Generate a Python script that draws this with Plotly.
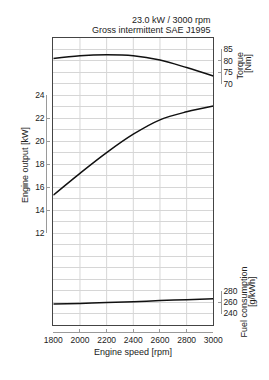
import plotly.graph_objects as go

# ---- data ----
rpm = [1800, 2000, 2200, 2400, 2600, 2800, 3000]
output_kw = [15.3, 17.2, 19.0, 20.6, 21.85, 22.55, 23.05]
torque_nm = [81.0, 82.2, 82.6, 82.2, 80.3, 77.0, 73.3]
fuel_gkwh = [256.5, 257.5, 259.0, 260.5, 262.5, 264.0, 265.5]

x_ticks = [1800, 2000, 2200, 2400, 2600, 2800, 3000]
kw_ticks = [12, 14, 16, 18, 20, 22, 24]
torque_ticks = [70, 75, 80, 85]
fuel_ticks = [240, 260, 280]

title_lines = ["23.0 kW / 3000 rpm", "Gross intermittent SAE J1995"]

# ---- layout helpers ----
W, H = 269, 380
def px_x(x):
    return x / W
def px_y(y):
    return (H - y) / H

X0, X1 = px_x(53.3), px_x(213.3)
Y0, Y1 = px_y(325), px_y(37.7)
KW_MIN, KW_MAX = 4, 29
def dom(v):
    return Y0 + (v - KW_MIN) / (KW_MAX - KW_MIN) * (Y1 - Y0)

FONT = "Liberation Sans"
TXT = "#222222"
GRID = "#d6d6d6"
FRAME = "#444444"
BRACKET = "#9a9a9a"

fig = go.Figure()

# invisible trace for the lower x tick axis (drawn first, on a grid-less y axis)
fig.add_trace(go.Scatter(x=rpm, y=fuel_gkwh, xaxis="x2", yaxis="y4", mode="lines",
                         line=dict(color="rgba(0,0,0,0)", width=0),
                         hoverinfo="skip", showlegend=False))
# invisible trace for the kW bracket axis
fig.add_trace(go.Scatter(x=rpm, y=output_kw, xaxis="x", yaxis="y2", mode="lines",
                         line=dict(color="rgba(0,0,0,0)", width=0),
                         hoverinfo="skip", showlegend=False))
# output (main axes)
fig.add_trace(go.Scatter(x=rpm, y=output_kw, xaxis="x", yaxis="y", mode="lines",
                         line=dict(color="#111111", width=1.5, shape="spline"),
                         hoverinfo="skip", showlegend=False))
# torque
fig.add_trace(go.Scatter(x=rpm, y=torque_nm, xaxis="x", yaxis="y3", mode="lines",
                         line=dict(color="#111111", width=1.5, shape="spline"),
                         hoverinfo="skip", showlegend=False, cliponaxis=False))
# fuel
fig.add_trace(go.Scatter(x=rpm, y=fuel_gkwh, xaxis="x", yaxis="y4", mode="lines",
                         line=dict(color="#111111", width=1.5, shape="spline"),
                         hoverinfo="skip", showlegend=False, cliponaxis=False))

tickfont = dict(family=FONT, size=8.5, color=TXT)

# vertical grid lines as below-layer shapes
shapes = []
for xv in x_ticks[1:-1]:
    shapes.append(dict(type="line", xref="x", yref="paper", x0=xv, x1=xv, y0=Y0, y1=Y1,
                       line=dict(color=GRID, width=1), layer="below"))

fig.update_layout(
    width=W, height=H,
    margin=dict(l=0, r=0, t=0, b=0, autoexpand=False),
    paper_bgcolor="white", plot_bgcolor="rgba(0,0,0,0)",
    font=dict(family=FONT, color=TXT),
    shapes=shapes,
    xaxis=dict(domain=[X0, X1], range=[1800, 3000], anchor="y",
               tickvals=x_ticks, showticklabels=False, ticks="",
               showgrid=False,
               showline=True, linecolor=FRAME, linewidth=1, mirror=True,
               zeroline=False, fixedrange=True),
    yaxis=dict(domain=[Y0, Y1], range=[KW_MIN, KW_MAX], anchor="x",
               dtick=1, tick0=0, showticklabels=False, ticks="",
               showgrid=True, gridcolor=GRID, gridwidth=1,
               showline=True, linecolor=FRAME, linewidth=1, mirror=True,
               zeroline=False, fixedrange=True),
    xaxis2=dict(domain=[X0, X1], range=[1800, 3000], anchor="free",
                position=px_y(332), side="bottom",
                tickvals=x_ticks, ticks="inside", ticklen=3, tickcolor=BRACKET,
                showline=True, linecolor=BRACKET, linewidth=1,
                showgrid=False, zeroline=False, tickfont=tickfont, fixedrange=True),
    yaxis2=dict(domain=[dom(12), dom(24)], range=[12, 24], anchor="free",
                position=px_x(46.3), side="left",
                tickvals=kw_ticks, ticks="inside", ticklen=3, tickcolor=BRACKET,
                showline=True, linecolor=BRACKET, linewidth=1,
                showgrid=False, zeroline=False, tickfont=tickfont, fixedrange=True),
    yaxis3=dict(domain=[dom(25), dom(28)], range=[70, 85], anchor="free",
                position=px_x(220.7), side="right",
                tickvals=torque_ticks, ticks="inside", ticklen=3, tickcolor=BRACKET,
                showline=True, linecolor=BRACKET, linewidth=1,
                showgrid=False, zeroline=False, tickfont=tickfont, fixedrange=True),
    yaxis4=dict(domain=[dom(5), dom(7)], range=[240, 280], anchor="free",
                position=px_x(220.7), side="right",
                tickvals=fuel_ticks, ticks="inside", ticklen=3, tickcolor=BRACKET,
                showline=True, linecolor=BRACKET, linewidth=1,
                showgrid=False, zeroline=False, tickfont=tickfont, fixedrange=True),
)

ann_font = dict(family=FONT, size=9, color=TXT)
annotations = [
    dict(text=title_lines[0], x=px_x(213), y=px_y(19.8), xanchor="right", yanchor="middle"),
    dict(text=title_lines[1], x=px_x(213), y=px_y(29.8), xanchor="right", yanchor="middle"),
    dict(text="Engine speed [rpm]", x=px_x(133.3), y=px_y(351.5), xanchor="center", yanchor="middle"),
    dict(text="Engine output [kW]", x=px_x(25), y=px_y(165), xanchor="center", yanchor="middle", textangle=-90),
    dict(text="Torque", x=px_x(239.5), y=px_y(66), xanchor="center", yanchor="middle", textangle=-90),
    dict(text="[Nm]", x=px_x(248), y=px_y(64), xanchor="center", yanchor="middle", textangle=-90),
    dict(text="Fuel consumption", x=px_x(243.5), y=px_y(302), xanchor="center", yanchor="middle", textangle=-90),
    dict(text="[g/kWh]", x=px_x(252), y=px_y(292), xanchor="center", yanchor="middle", textangle=-90),
]
for a in annotations:
    a.update(xref="paper", yref="paper", showarrow=False, font=ann_font)
fig.update_layout(annotations=annotations)

fig.write_html("out.html")
